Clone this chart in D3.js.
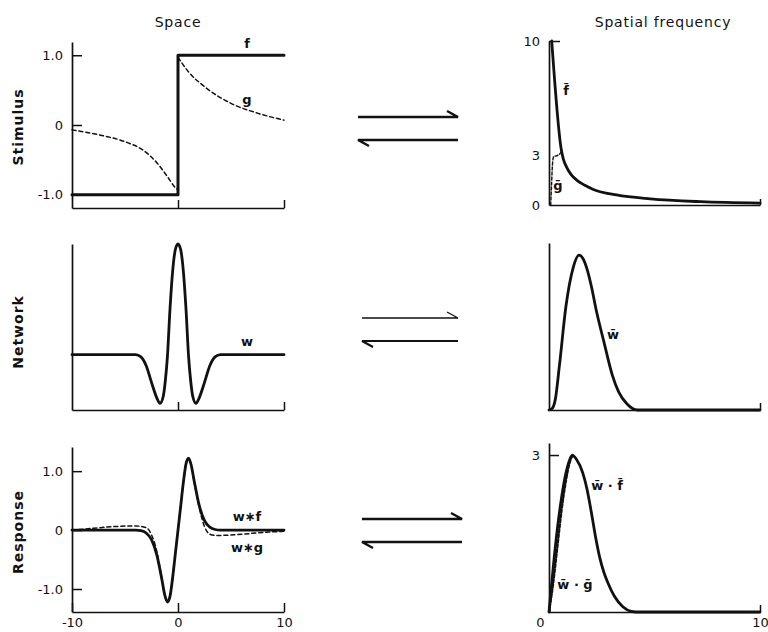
<!DOCTYPE html>
<html><head><meta charset="utf-8">
<script src="https://cdn.jsdelivr.net/npm/d3@7"></script>
<style>body{margin:0;background:#fff}svg{display:block}</style>
</head><body>
<script>
// ---------------- DATA ----------------
const rowLabels = ["Stimulus", "Network", "Response"];
const colTitles = ["Space", "Spatial frequency"];
const spaceTicks = [-10, 0, 10];
const spaceTickLabels = ["-10", "0", "10"];
const freqTicks = [0, 10];
const freqTickLabels = ["0", "10"];
const stimTicks = [-1, 0, 1];
const stimTickLabels = ["-1.0", "0", "1.0"];
const stimFreqTicks = [0, 3, 10];
const stimFreqTickLabels = ["0", "3", "10"];
const respTicks = [-1, 0, 1];
const respTickLabels = ["-1.0", "0", "1.0"];
const respFreqTicks = [3];
const respFreqTickLabels = ["3"];

// Stimulus (space)
const fX = [-10, 0, 0, 10];
const fY = [-1, -1, 1, 1];
const gLeftX = [-10, -7.5, -5, -3.3, -2, -1, -0.3, 0];
const gLeftY = [-0.07, -0.14, -0.24, -0.36, -0.54, -0.74, -0.89, -0.93];
const gRightX = [0, 1, 2.5, 5, 7.5, 10];
const gRightY = [0.97, 0.76, 0.55, 0.31, 0.17, 0.07];

// Stimulus (frequency)
const fbX = [0.13, 0.58, 0.68, 0.84, 1.05, 1.31, 1.7, 2.1, 3.2, 4.8, 7.2, 10];
const fbY = [10, 3.4, 2.8, 2.3, 1.85, 1.52, 1.2, 0.95, 0.61, 0.37, 0.2, 0.12];
const gbX = [0.08, 0.12, 0.16, 0.22, 0.35, 0.5, 0.6];
const gbY = [0, 1.2, 2.4, 2.95, 3.0, 3.1, 3.3];

// Network
const wX = [-10, -4, -3.5, -3, -2.5, -2, -1.7, -1.4, -1.2, -1, -0.75, -0.5, -0.25, 0, 0.25, 0.5, 0.75, 1, 1.2, 1.4, 1.7, 2, 2.5, 3, 3.5, 4, 10];
const wY = [0, 0, -0.02, -0.1, -0.25, -0.39, -0.44, -0.38, -0.24, -0.02, 0.42, 0.76, 0.95, 1.0, 0.95, 0.76, 0.42, -0.02, -0.24, -0.38, -0.44, -0.39, -0.25, -0.1, -0.02, 0, 0];
const wbX = [0, 0.15, 0.3, 0.5, 0.8, 1.15, 1.42, 1.6, 1.8, 2.0, 2.25, 2.6, 3.0, 3.3, 3.7, 4.2, 10];
const wbY = [0, 0.01, 0.07, 0.3, 0.68, 0.94, 1.02, 1.0, 0.93, 0.82, 0.65, 0.45, 0.23, 0.12, 0.04, 0, 0];

// Response
const wfX = [-10, -4, -3.5, -3, -2.5, -2, -1.5, -1.25, -1, -0.75, -0.5, -0.25, 0, 0.25, 0.5, 0.75, 1, 1.25, 1.5, 2, 2.5, 3, 3.5, 4, 10];
const wfY = [0, 0, -0.01, -0.05, -0.16, -0.42, -0.86, -1.1, -1.22, -1.12, -0.8, -0.4, 0, 0.4, 0.8, 1.12, 1.22, 1.1, 0.86, 0.42, 0.16, 0.05, 0.01, 0, 0];
const wgX = [-10, -8, -6, -4, -3, -2.5, -2, -1.5, -1.25, -1, -0.75, -0.5, -0.25, 0, 0.25, 0.5, 0.75, 1, 1.25, 1.5, 2, 2.5, 3, 3.5, 4, 6, 8, 10];
const wgY = [0, 0.03, 0.06, 0.07, 0.04, -0.08, -0.36, -0.84, -1.1, -1.22, -1.12, -0.8, -0.4, 0, 0.4, 0.8, 1.12, 1.21, 1.08, 0.84, 0.38, 0.06, -0.07, -0.09, -0.09, -0.07, -0.04, -0.02];
const wfbX = [0, 0.2, 0.4, 0.6, 0.8, 1.0, 1.1, 1.3, 1.6, 1.8, 2.0, 2.2, 2.4, 2.6, 2.8, 3.1, 3.5, 3.9, 4.1, 10];
const wfbY = [0, 0.85, 1.6, 2.2, 2.65, 2.93, 3.0, 2.92, 2.66, 2.35, 1.92, 1.45, 1.05, 0.76, 0.55, 0.3, 0.1, 0.01, 0, 0];
const wgbX = [0, 0.2, 0.4, 0.6, 0.8, 1.0, 1.1, 1.2];
const wgbY = [0, 0.55, 1.25, 1.95, 2.5, 2.88, 2.97, 2.98];

// ---------------- LAYOUT ----------------
const W = 768, H = 632;
const FONT = "DejaVu Sans";
const svg = d3.select("body").append("svg").attr("width", W).attr("height", H);

const xS = d3.scaleLinear().domain([-10, 10]).range([72, 284]);
const xF = d3.scaleLinear().domain([0, 10]).range([549, 760]);

const yStim = d3.scaleLinear().domain([-1.19, 1.19]).range([208, 42]);
const yStimF = d3.scaleLinear().domain([0, 10]).range([205, 41]);
const yNet = d3.scaleLinear().domain([-0.5, 1.0]).range([410, 244]);
const yNetF = d3.scaleLinear().domain([0, 1.1]).range([410, 243]);
const yResp = d3.scaleLinear().domain([-1.39, 1.41]).range([612, 447]);
const yRespF = d3.scaleLinear().domain([0, 3.23]).range([612, 443]);

function styleAxis(g) {
  g.attr("font-family", FONT).attr("font-size", 13);
  g.selectAll("path.domain").attr("stroke", "#111").attr("stroke-width", 1.7);
  g.selectAll(".tick line").attr("stroke", "#111").attr("stroke-width", 1.5);
  g.selectAll(".tick text").attr("fill", "#111");
}
function leftAxis(x0, y, vals, labels, size) {
  const g = svg.append("g").attr("transform", `translate(${x0},0)`)
    .call(d3.axisLeft(y).tickValues(vals).tickFormat((d, i) => labels[i])
      .tickSize(-size).tickSizeOuter(0).tickPadding(9));
  styleAxis(g);
  return g;
}
function bottomAxis(y0, x, vals, labels, size) {
  const g = svg.append("g").attr("transform", `translate(0,${y0})`)
    .call(d3.axisBottom(x).tickValues(vals).tickFormat((d, i) => labels ? labels[i] : "")
      .tickSize(-size).tickSizeOuter(0).tickPadding(6));
  styleAxis(g);
  return g;
}

// Axes
leftAxis(72, yStim, stimTicks, stimTickLabels, 10);
bottomAxis(208, xS, [0, 10], null, 8);
leftAxis(549, yStimF, stimFreqTicks, stimFreqTickLabels, 10)
  .selectAll(".tick line").attr("x2", (d) => d === 10 ? 11 : 0);
bottomAxis(205, xF, [10], null, 6);

leftAxis(72, yNet, [], [], 0);
bottomAxis(410, xS, [0, 10], null, 8);
leftAxis(549, yNetF, [], [], 0);
bottomAxis(410, xF, [10], null, 7);

leftAxis(72, yResp, respTicks, respTickLabels, 10);
bottomAxis(612, xS, spaceTicks, spaceTickLabels, 9);
leftAxis(549, yRespF, respFreqTicks, respFreqTickLabels, 10);
const brAx = bottomAxis(612, xF, freqTicks, freqTickLabels, 7);
brAx.selectAll(".tick text").attr("dx", (d) => d === 0 ? -9 : 0);

// Lines
function drawLine(xs, ys, xScale, yScale, opts) {
  const pts = xs.map((d, i) => [d, ys[i]]);
  const gen = d3.line().x(d => xScale(d[0])).y(d => yScale(d[1]))
    .curve(opts.curve || d3.curveMonotoneX);
  svg.append("path").attr("d", gen(pts)).attr("fill", "none")
    .attr("stroke", "#111").attr("stroke-width", opts.width || 2.8)
    .attr("stroke-linejoin", "round").attr("stroke-linecap", "round")
    .attr("stroke-dasharray", opts.dash || null);
}
const DASH = "4,3";
drawLine(fX, fY, xS, yStim, { curve: d3.curveLinear, width: 3 });
drawLine(gLeftX, gLeftY, xS, yStim, { width: 1.5, dash: DASH });
drawLine(gRightX, gRightY, xS, yStim, { width: 1.5, dash: DASH });
drawLine(fbX, fbY, xF, yStimF, { width: 2.8 });
drawLine(gbX, gbY, xF, yStimF, { width: 1.4, dash: "3,2" });

drawLine(wX, wY, xS, yNet, { width: 2.8 });
drawLine(wbX, wbY, xF, yNetF, { width: 2.8 });

drawLine(wgX, wgY, xS, yResp, { width: 1.5, dash: DASH });
drawLine(wfX, wfY, xS, yResp, { width: 2.8 });
drawLine(wgbX, wgbY, xF, yRespF, { width: 2.2, dash: "3,2" });
drawLine(wfbX, wfbY, xF, yRespF, { width: 2.8 });

// Titles
const titleX = [178, 663];
colTitles.forEach((t, i) => {
  svg.append("text").attr("x", titleX[i]).attr("y", 27).attr("text-anchor", "middle")
    .attr("font-family", FONT).attr("font-size", 14).attr("letter-spacing", 0.8)
    .attr("fill", "#111").text(t);
});
const rowY = [127, 332, 532];
rowLabels.forEach((t, i) => {
  svg.append("text").attr("transform", `translate(23,${rowY[i]}) rotate(-90)`)
    .attr("text-anchor", "middle").attr("font-family", FONT).attr("font-size", 14)
    .attr("font-weight", "bold").attr("letter-spacing", 1).attr("fill", "#111").text(t);
});

// Curve labels
const labels = [
  { t: "f", x: 247, y: 48 },
  { t: "g", x: 247, y: 104 },
  { t: "f\u0304", x: 566, y: 95 },
  { t: "g\u0304", x: 558, y: 190 },
  { t: "w", x: 247, y: 346 },
  { t: "w\u0304", x: 613, y: 339 },
  { t: "w\u2217f", x: 247, y: 521 },
  { t: "w\u2217g", x: 247, y: 552 },
  { t: "w\u0304 \u00b7 f\u0304", x: 607, y: 490 },
  { t: "w\u0304 \u00b7 g\u0304", x: 575, y: 589 }
];
labels.forEach(l => {
  svg.append("text").attr("x", l.x).attr("y", l.y).attr("text-anchor", "middle")
    .attr("font-family", FONT).attr("font-size", 13).attr("font-weight", "bold")
    .attr("fill", "#111").text(l.t);
});

// Harpoon arrows between columns
const arrows = [
  { y1: 117, y2: 140, xa: 358, xb: 458, w1: 2.4, w2: 2.4 },
  { y1: 318, y2: 341, xa: 362, xb: 458, w1: 1.3, w2: 2.0 },
  { y1: 519, y2: 542, xa: 362, xb: 462, w1: 2.4, w2: 2.4 }
];
arrows.forEach(a => {
  const p1 = d3.path();
  p1.moveTo(a.xa, a.y1); p1.lineTo(a.xb, a.y1); p1.lineTo(a.xb - 11, a.y1 - 6);
  svg.append("path").attr("d", p1.toString()).attr("fill", "none").attr("stroke", "#111")
    .attr("stroke-width", a.w1).attr("stroke-linejoin", "miter");
  const p2 = d3.path();
  p2.moveTo(a.xb, a.y2); p2.lineTo(a.xa, a.y2); p2.lineTo(a.xa + 11, a.y2 + 6);
  svg.append("path").attr("d", p2.toString()).attr("fill", "none").attr("stroke", "#111")
    .attr("stroke-width", a.w2).attr("stroke-linejoin", "miter");
});
</script>
</body></html>
